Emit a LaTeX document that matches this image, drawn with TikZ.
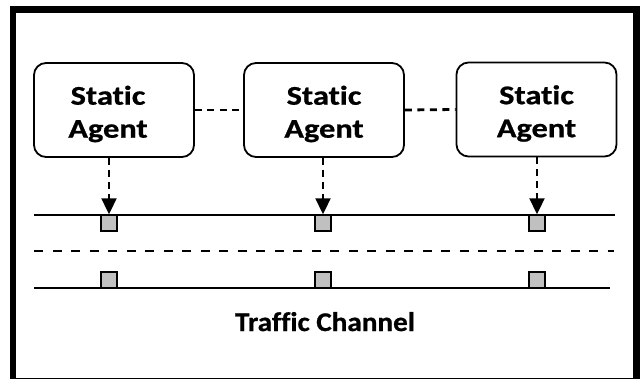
\documentclass[tikz,border=0pt]{standalone}
\usepackage{fontspec}
\setmainfont{Carlito}
\newfontfamily\agentfont[FakeStretch=1.2, FakeBold=0.8, Ligatures=NoCommon]{Carlito}
\newfontfamily\chanfont[FakeStretch=1.08, FakeBold=0.8, Ligatures=NoCommon]{Carlito}
\usetikzlibrary{arrows.meta}
\definecolor{slotgray}{RGB}{192,192,192}
\tikzset{
  agentbox/.style={draw, line width=1.8pt, rounded corners=12pt, minimum width=160pt, minimum height=94pt, inner sep=0pt},
  agenttext/.style={align=center, inner sep=0pt, font=\agentfont\bfseries\fontsize{27}{33}\selectfont},
  slot/.style={draw, line width=1.4pt, fill=slotgray, minimum width=16pt, minimum height=16pt, inner sep=0pt},
  linkdash/.style={line width=2.8pt, dash pattern=on 7pt off 5.5pt},
  downarrow/.style={line width=2pt, dash pattern=on 7pt off 5pt, -{Triangle[length=16pt,width=15pt]}},
  chline/.style={line width=1.5pt},
  chdash/.style={line width=2.8pt, dash pattern=on 9pt off 9.5pt}
}
\begin{document}
\begin{tikzpicture}[x=1pt,y=-1pt]
\useasboundingbox (0,0) rectangle (642,379);
\clip (0,0) rectangle (642,379);
\draw[line width=6.5pt] (13,9.5) rectangle (636.5,381);
% agents
\node[agentbox] (a1) at (114,110) {};
\node[agentbox] (a2) at (324,110) {};
\node[agentbox] (a3) at (536.5,109.5) {};
\node[agenttext] (l1) at ([xshift=-6pt,yshift=-4pt]a1.center) {Static\\Agent};
\node[agenttext] (l2) at ([yshift=-4pt]a2.center) {Static\\Agent};
\node[agenttext] (l3) at ([yshift=-4pt]a3.center) {Static\\Agent};
\draw[linkdash] (a1.east) -- (a2.west);
\draw[linkdash] (a2.east) -- (a3.west);
% channel lines
\coordinate (t0) at (34,215); \coordinate (t1) at (615,215);
\coordinate (d0) at (34,251); \coordinate (d1) at (614,251);
\coordinate (b0) at (34,288); \coordinate (b1) at (610,288);
\draw[chline] (t0) -- (t1);
\draw[chdash] (d0) -- (d1);
\draw[chline] (b0) -- (b1);
% slots
\node[slot] (s1) at (109,223) {};
\node[slot] (s2) at (323,223) {};
\node[slot] (s3) at (537,223) {};
\node[slot] (u1) at (109,280) {};
\node[slot] (u2) at (323,280) {};
\node[slot] (u3) at (537,280) {};
% arrows
\draw[downarrow] (s1.north |- a1.south) -- (s1.north);
\draw[downarrow] (s2.north |- a2.south) -- (s2.north);
\draw[downarrow] (s3.north |- a3.south) -- (s3.north);
\node[anchor=base, inner sep=0pt, font=\chanfont\bfseries\fontsize{27}{33}\selectfont] (tc) at (325,331) {Traffic Channel};
\end{tikzpicture}
\end{document}
